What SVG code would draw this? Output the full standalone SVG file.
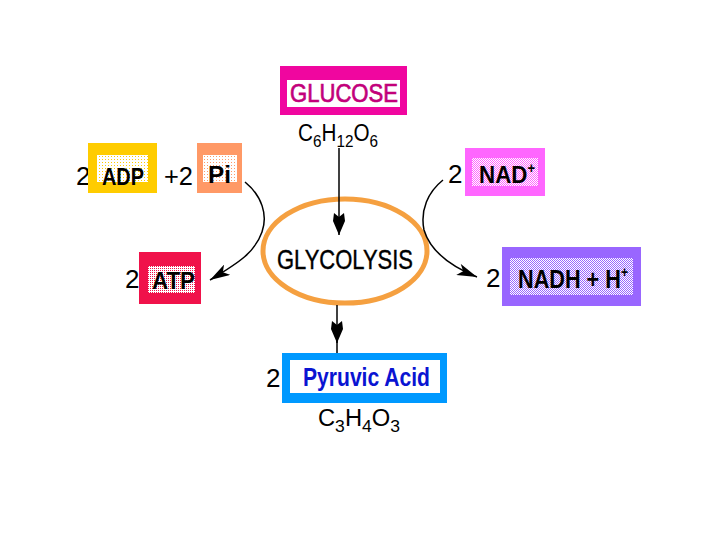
<svg xmlns="http://www.w3.org/2000/svg" width="720" height="540" viewBox="0 0 720 540">
<style>
.lbl{font-family:"Liberation Sans",Arial,sans-serif;font-weight:bold;fill:#000}
.num{font-family:"Liberation Sans",Arial,sans-serif;font-size:26px;fill:#000}
.frm{font-family:"Liberation Sans",Arial,sans-serif;fill:#000}
.con{fill:none;stroke:#000;stroke-width:1.5}
</style>
<defs>
<pattern id="pY" width="3" height="3" patternUnits="userSpaceOnUse"><rect width="3" height="3" fill="#fff"/><rect width="1" height="1" fill="#ffcc00"/></pattern>
<pattern id="pO" width="3" height="3" patternUnits="userSpaceOnUse"><rect width="3" height="3" fill="#fff"/><rect width="1" height="1" fill="#ff9966"/></pattern>
<pattern id="pR" width="2" height="2" patternUnits="userSpaceOnUse"><rect width="2" height="2" fill="#fff"/><rect width="1" height="1" fill="#f0124a"/></pattern>
<pattern id="pM" width="2" height="2" patternUnits="userSpaceOnUse"><rect width="2" height="2" fill="#fff"/><rect width="1" height="1" fill="#ff66ff"/><rect x="1" y="1" width="1" height="1" fill="#ff66ff"/></pattern>
<pattern id="pP" width="2" height="2" patternUnits="userSpaceOnUse"><rect width="2" height="2" fill="#fff"/><rect width="1" height="1" fill="#9966ff"/><rect x="1" y="1" width="1" height="1" fill="#9966ff"/></pattern>
<marker id="ah" viewBox="0 0 20 12" refX="20" refY="6" markerWidth="20" markerHeight="12" markerUnits="userSpaceOnUse" orient="auto">
<path d="M0,0 L20,6 L0,12 L5,6 Z" fill="#000"/>
</marker>
<marker id="av" viewBox="0 0 22 12" refX="22" refY="6" markerWidth="22" markerHeight="12" markerUnits="userSpaceOnUse" orient="auto">
<path d="M0,1 L8,0 L22,6 L8,12 L0,11 L4,6 Z" fill="#000"/>
</marker>
</defs>
<rect width="720" height="540" fill="#fff"/>

<g id="glucose">
<rect x="280" y="66" width="127" height="49" fill="#f0069f"/>
<rect x="287" y="80" width="113" height="27" fill="#fff"/>
<text class="lbl" x="290" y="102" font-size="26" textLength="108" lengthAdjust="spacingAndGlyphs" style="fill:#c2007a;font-weight:normal;stroke:#c2007a;stroke-width:0.7">GLUCOSE</text>
<text class="frm" x="298" y="141" font-size="23" textLength="80" lengthAdjust="spacingAndGlyphs">C<tspan font-size="17" dy="6">6</tspan><tspan dy="-6">H</tspan><tspan font-size="17" dy="6">12</tspan><tspan dy="-6">O</tspan><tspan font-size="17" dy="6">6</tspan></text>
</g>

<g id="adp">
<text class="num" x="76" y="185">2</text>
<rect x="88" y="143" width="69" height="50" fill="#ffcc00"/>
<rect x="97" y="155" width="51" height="27" fill="url(#pY)"/>
<text class="lbl" x="102" y="185" font-size="24" textLength="42" lengthAdjust="spacingAndGlyphs">ADP</text>
</g>

<g id="pi">
<text class="num" x="164" y="185" textLength="29" lengthAdjust="spacingAndGlyphs">+2</text>
<rect x="197" y="143" width="45" height="50" fill="#ff9966"/>
<rect x="203" y="155" width="34" height="27" fill="url(#pO)"/>
<text class="lbl" x="208" y="183" font-size="24" textLength="23" lengthAdjust="spacingAndGlyphs">Pi</text>
</g>

<g id="atp">
<text class="num" x="125" y="288">2</text>
<rect x="139" y="252" width="62" height="52" fill="#f0124a"/>
<rect x="148" y="266" width="47" height="27" fill="url(#pR)"/>
<text class="lbl" x="152" y="289" font-size="24" textLength="43" lengthAdjust="spacingAndGlyphs">ATP</text>
</g>

<g id="nad">
<text class="num" x="448" y="183" font-size="25">2</text>
<rect x="465" y="148" width="80" height="48" fill="#ff66ff"/>
<rect x="472" y="158" width="66" height="28" fill="url(#pM)"/>
<text class="lbl" x="479" y="183" font-size="24" textLength="56" lengthAdjust="spacingAndGlyphs">NAD<tspan font-size="14" dy="-10">+</tspan></text>
</g>

<g id="nadh">
<text class="num" x="486" y="287">2</text>
<rect x="502" y="247" width="139" height="59" fill="#9966ff"/>
<rect x="510" y="258" width="123" height="37" fill="url(#pP)"/>
<text class="lbl" x="518" y="288" font-size="25" textLength="110" lengthAdjust="spacingAndGlyphs">NADH + H<tspan font-size="14" dy="-11">+</tspan></text>
</g>

<g id="glycolysis">
<ellipse cx="345" cy="251" rx="82" ry="52" fill="none" stroke="#f5a040" stroke-width="5"/>
<text class="frm" x="277" y="269" font-size="28" textLength="136" lengthAdjust="spacingAndGlyphs" style="stroke:#000;stroke-width:0.4">GLYCOLYSIS</text>
</g>

<g id="pyruvic">
<text class="num" x="266" y="387">2</text>
<rect x="282" y="353" width="165" height="50" fill="#0099ff"/>
<rect x="290" y="360" width="150" height="33" fill="#fff"/>
<text class="lbl" x="303" y="386" font-size="25" textLength="127" lengthAdjust="spacingAndGlyphs" style="fill:#0a14d2">Pyruvic Acid</text>
<text class="frm" x="318" y="426" font-size="23" textLength="82" lengthAdjust="spacingAndGlyphs">C<tspan font-size="17" dy="6">3</tspan><tspan dy="-6">H</tspan><tspan font-size="17" dy="6">4</tspan><tspan dy="-6">O</tspan><tspan font-size="17" dy="6">3</tspan></text>
</g>

<g id="connectors">
<path class="con" d="M339,148 L339,235" marker-end="url(#av)"/>
<path class="con" d="M337,305 L337,343" marker-end="url(#av)"/>
<path class="con" d="M337,340 L337,353"/>
<path class="con" d="M245,182 C262,196 268,215 262,232 C255,252 240,262 210,280" marker-end="url(#ah)"/>
<path class="con" d="M443,180 C428,192 420,210 424,230 C430,250 450,266 477,277" marker-end="url(#ah)"/>
</g>
</svg>
